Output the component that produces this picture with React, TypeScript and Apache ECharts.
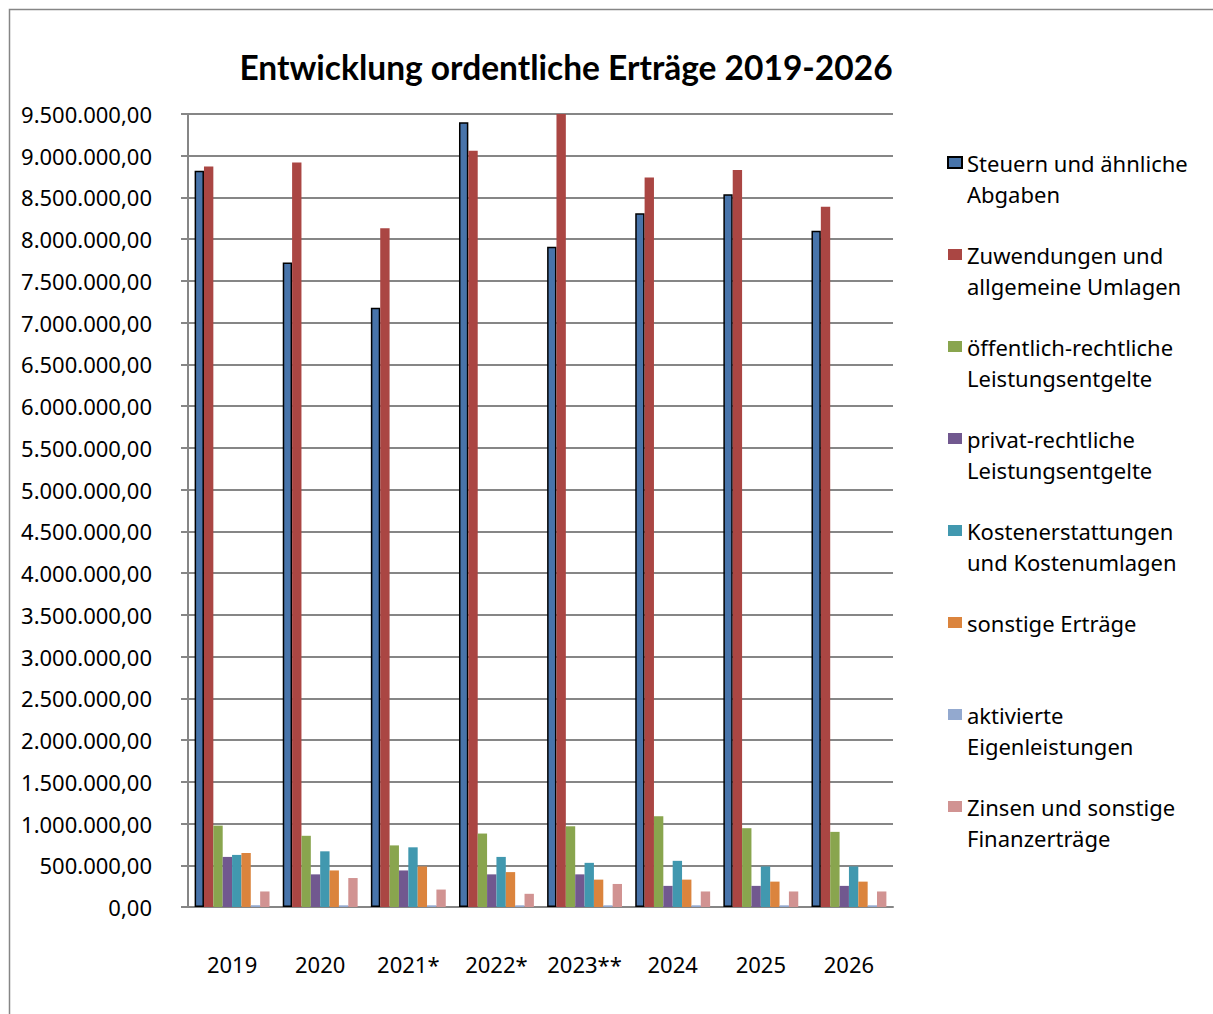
import React, { useEffect, useRef } from "react";
import * as echarts from "echarts";

const categories = ["2019", "2020", "2021*", "2022*", "2023**", "2024", "2025", "2026"];

const seriesNames = [
  "Steuern und ähnliche Abgaben",
  "Zuwendungen und allgemeine Umlagen",
  "öffentlich-rechtliche Leistungsentgelte",
  "privat-rechtliche Leistungsentgelte",
  "Kostenerstattungen und Kostenumlagen",
  "sonstige Erträge",
  "aktivierte Eigenleistungen",
  "Zinsen und sonstige Finanzerträge",
];

const legendLabels = [
  ["Steuern und ähnliche", "Abgaben"],
  ["Zuwendungen und", "allgemeine Umlagen"],
  ["öffentlich-rechtliche", "Leistungsentgelte"],
  ["privat-rechtliche", "Leistungsentgelte"],
  ["Kostenerstattungen", "und Kostenumlagen"],
  ["sonstige Erträge"],
  ["aktivierte", "Eigenleistungen"],
  ["Zinsen und sonstige", "Finanzerträge"],
];

const steuern = [8820000, 7720000, 7180000, 9400000, 7910000, 8310000, 8540000, 8100000];
const zuwendungen = [8870000, 8920000, 8130000, 9060000, 9530000, 8740000, 8830000, 8390000];
const oeffentlich = [975000, 853000, 738000, 880000, 967000, 1086000, 944000, 900000];
const privat = [600000, 391000, 438000, 391000, 391000, 253000, 253000, 253000];
const kosten = [624000, 667000, 715000, 600000, 529000, 553000, 486000, 486000];
const sonstige = [647000, 438000, 486000, 418000, 328000, 328000, 304000, 304000];
const aktivierte = [20000, 20000, 20000, 20000, 20000, 20000, 20000, 20000];
const zinsen = [186000, 347000, 209000, 158000, 276000, 186000, 186000, 186000];

const seriesValues = [steuern, zuwendungen, oeffentlich, privat, kosten, sonstige, aktivierte, zinsen];

const colors = ["#4874AA", "#AA4643", "#89A54E", "#71588F", "#4198AF", "#DB843D", "#93A9CF", "#D19392"];

const FONT = "Noto Sans";
const GRID_COLOR = "#868686";

function formatDE(v: number): string {
  const intPart = Math.round(v).toString().replace(/\B(?=(\d{3})+(?!\d))/g, ".");
  return intPart + ",00";
}

export default function App() {
  const ref = useRef<HTMLDivElement>(null);

  useEffect(() => {
    if (!ref.current) return;
    const chart = echarts.init(ref.current, null, { renderer: "svg" });

    const legendMap: Record<string, string> = {};
    seriesNames.forEach((n, i) => {
      const l = legendLabels[i];
      legendMap[n] = l.length === 2 ? "\n" + l[0] + "\n" + l[1] : "\n" + l[0] + "\n";
    });

    chart.setOption({
      animation: false,
      backgroundColor: "#ffffff",
      title: {
        text: "Entwicklung ordentliche Erträge 2019-2026",
        left: 566,
        top: 50,
        textAlign: "center",
        padding: 0,
        textStyle: {
          fontFamily: "Lato",
          fontWeight: "bold",
          fontSize: 33.5,
          color: "#000000",
        },
      },
      graphic: [
        {
          type: "rect",
          shape: { x: 9.5, y: 9.5, width: 1300, height: 1100 },
          style: { fill: "none", stroke: GRID_COLOR, lineWidth: 1.5 },
          silent: true,
        },
      ],
      legend: {
        orient: "vertical",
        left: 947,
        top: 116,
        padding: 0,
        itemGap: -1,
        itemWidth: 14,
        itemHeight: 11,
        icon: "rect",
        selectedMode: false,
        data: seriesNames,
        formatter: (name: string) => legendMap[name] || name,
        textStyle: {
          fontFamily: FONT,
          fontSize: 22,
          lineHeight: 31,
          color: "#000000",
        },
      },
      grid: {
        left: 188,
        top: 114,
        width: 705,
        height: 793,
        containLabel: false,
      },
      xAxis: {
        type: "category",
        data: categories,
        axisLine: { show: true, lineStyle: { color: GRID_COLOR, width: 2 } },
        axisTick: { show: false },
        axisLabel: {
          interval: 0,
          margin: 46,
          fontFamily: FONT,
          fontSize: 22,
          color: "#000000",
        },
      },
      yAxis: {
        type: "value",
        min: 0,
        max: 9500000,
        interval: 500000,
        axisLine: { show: true, lineStyle: { color: GRID_COLOR, width: 2 } },
        axisTick: { show: true, inside: false, length: 7, lineStyle: { color: GRID_COLOR, width: 2 } },
        splitLine: { show: true, lineStyle: { color: GRID_COLOR, width: 2 } },
        axisLabel: {
          margin: 36,
          fontFamily: FONT,
          fontSize: 22,
          color: "#000000",
          formatter: (v: number) => formatDE(v),
        },
      },
      series: seriesNames.map((name, i) => ({
        name,
        type: "bar",
        data: seriesValues[i],
        barGap: "0%",
        barCategoryGap: "15%",
        itemStyle:
          i === 0
            ? { color: colors[i], borderColor: "#000000", borderWidth: 1.5 }
            : { color: colors[i] },
      })),
    });

    return () => chart.dispose();
  }, []);

  return (
    <div
      ref={ref}
      style={{ position: "fixed", left: 0, top: 0, width: 1213, height: 1014, background: "#fff" }}
    />
  );
}
